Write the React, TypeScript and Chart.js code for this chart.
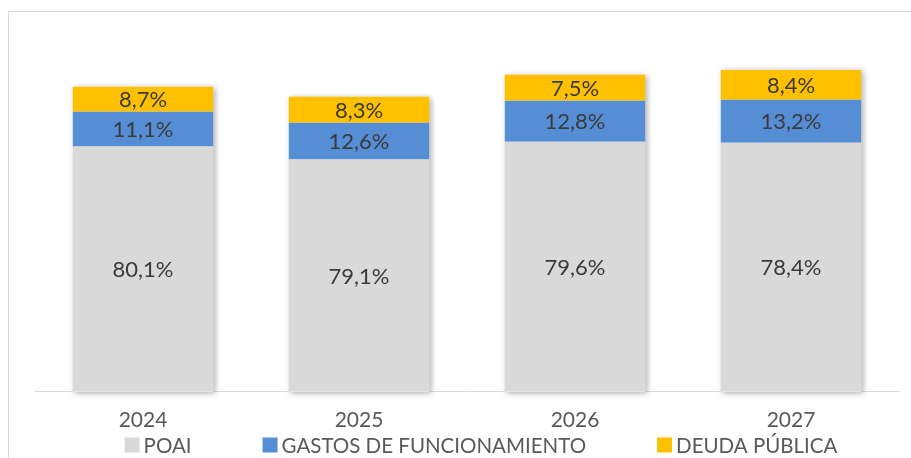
import { useEffect, useRef } from "react";
import { Chart, registerables } from "chart.js";

Chart.register(...registerables);

const categories = ["2024", "2025", "2026", "2027"];
const seriesNames = ["POAI", "GASTOS DE FUNCIONAMIENTO", "DEUDA PÚBLICA"];
const poai = [1230, 1165, 1255, 1250];
const gastos = [175, 185, 205, 215];
const deuda = [125, 130, 130, 150];
const poaiLabels = ["80,1%", "79,1%", "79,6%", "78,4%"];
const gastosLabels = ["11,1%", "12,6%", "12,8%", "13,2%"];
const deudaLabels = ["8,7%", "8,3%", "7,5%", "8,4%"];
const colors = ["#D9D9D9", "#558ED5", "#FFC000"];

const FONT = "Lato, 'Open Sans', sans-serif";

const framePlugin = {
  id: "frame",
  beforeDraw(chart: any) {
    const ctx = chart.ctx;
    ctx.save();
    ctx.fillStyle = "#ffffff";
    ctx.fillRect(0, 0, chart.width, chart.height);
    ctx.strokeStyle = "#D9D9D9";
    ctx.lineWidth = 1;
    ctx.strokeRect(8.5, 11.5, 1200, 1200);
    ctx.restore();
  },
};

const shadowPlugin = {
  id: "stackShadow",
  beforeDatasetsDraw(chart: any) {
    const ctx = chart.ctx;
    const first = chart.getDatasetMeta(0).data;
    const last = chart.getDatasetMeta(chart.data.datasets.length - 1).data;
    ctx.save();
    ctx.shadowColor = "rgba(0,0,0,0.35)";
    ctx.shadowBlur = 6;
    ctx.shadowOffsetX = 2;
    ctx.shadowOffsetY = 1;
    ctx.fillStyle = "#ffffff";
    first.forEach((el: any, i: number) => {
      const top = last[i].y;
      const base = el.base;
      ctx.fillRect(el.x - el.width / 2, top, el.width, base - top);
    });
    ctx.restore();
  },
};

const labelsPlugin = {
  id: "segLabels",
  afterDatasetsDraw(chart: any) {
    const ctx = chart.ctx;
    const all = [poaiLabels, gastosLabels, deudaLabels];
    ctx.save();
    ctx.font = `22px ${FONT}`;
    ctx.fillStyle = "#3A3A3A";
    ctx.textAlign = "center";
    ctx.textBaseline = "middle";
    chart.data.datasets.forEach((_ds: any, di: number) => {
      chart.getDatasetMeta(di).data.forEach((el: any, i: number) => {
        ctx.fillText(all[di][i], el.x, (el.y + el.base) / 2 + 1);
      });
    });
    ctx.restore();
  },
};

const legendPlugin = {
  id: "customLegend",
  afterDraw(chart: any) {
    const ctx = chart.ctx;
    ctx.save();
    ctx.font = `20.5px ${FONT}`;
    const box = 15;
    const gapText = 4;
    const gapItems = 71;
    const ds = chart.data.datasets;
    const widths = ds.map((d: any) => box + gapText + ctx.measureText(d.label).width);
    const total = widths.reduce((a: number, b: number) => a + b, 0) + gapItems * (ds.length - 1);
    let x = 481 - total / 2;
    const cy = 445;
    ds.forEach((d: any, i: number) => {
      ctx.fillStyle = d.backgroundColor;
      ctx.fillRect(x, cy - box / 2, box, box);
      ctx.fillStyle = "#595959";
      ctx.textAlign = "left";
      ctx.textBaseline = "middle";
      ctx.fillText(d.label, x + box + gapText, cy + 1);
      x += widths[i] + gapItems;
    });
    ctx.restore();
  },
};

export default function App() {
  const ref = useRef<HTMLCanvasElement | null>(null);
  useEffect(() => {
    if (!ref.current) return;
    const chart = new Chart(ref.current, {
      type: "bar",
      data: {
        labels: categories,
        datasets: [
          { label: seriesNames[0], data: poai, backgroundColor: colors[0] },
          { label: seriesNames[1], data: gastos, backgroundColor: colors[1] },
          { label: seriesNames[2], data: deuda, backgroundColor: colors[2] },
        ],
      },
      options: {
        animation: false,
        responsive: false,
        layout: { padding: { top: 33, left: 35, right: 12, bottom: 9 } },
        datasets: {
          bar: { categoryPercentage: 1, barPercentage: 0.65 },
        },
        plugins: {
          legend: { display: false },
          tooltip: { enabled: false },
        },
        scales: {
          x: {
            stacked: true,
            grid: { display: false, drawTicks: false },
            border: { display: true, color: "#D9D9D9", width: 1 },
            ticks: { color: "#595959", font: { family: FONT, size: 21 }, padding: 16 },
          },
          y: { stacked: true, display: false, min: 0, max: 1800 },
        },
      },
      plugins: [framePlugin, shadowPlugin, labelsPlugin, legendPlugin],
    });
    return () => chart.destroy();
  }, []);
  return (
    <div style={{ position: "absolute", left: 0, top: 0, width: 911, height: 458 }}>
      <canvas ref={ref} width={911} height={458} style={{ width: 911, height: 458 }} />
    </div>
  );
}
